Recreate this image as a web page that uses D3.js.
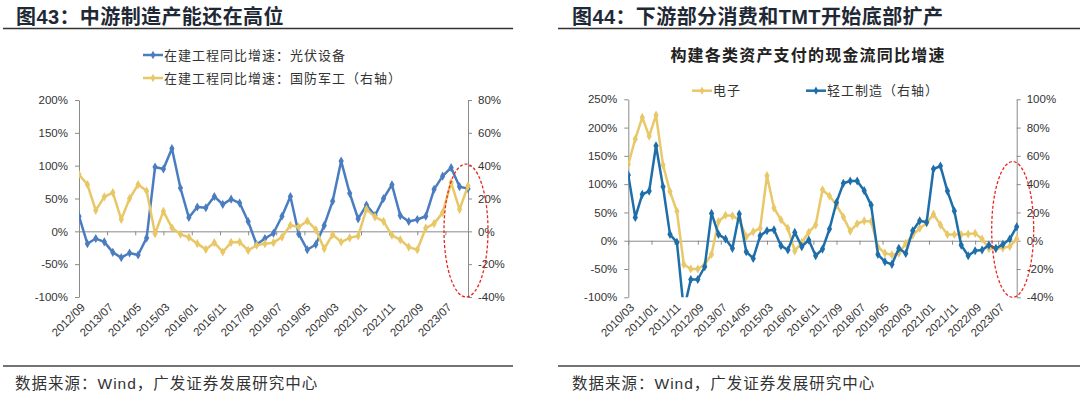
<!DOCTYPE html>
<html>
<head>
<meta charset="utf-8">
<script src="https://cdn.jsdelivr.net/npm/d3@7"></script>
<style>
  body { margin: 0; background: #fff; }
  svg { display: block; }
</style>
</head>
<body>
<div id="chart"></div>
<script>
/******************************************************
 * Data
 ******************************************************/
// Figure 43: quarterly points from 2012/09
const leftStart = "2012/09";
const leftEnd = "2024/03";
const leftTickLabels = ["2012/09", "2013/07", "2014/05", "2015/03", "2016/01", "2016/11", "2017/09",
    "2018/07", "2019/05", "2020/03", "2021/01", "2021/11", "2022/09", "2023/07"];
const leftAxisTicksA = [-100, -50, 0, 50, 100, 150, 200];
const leftAxisTicksB = [-40, -20, 0, 20, 40, 60, 80];
// 在建工程同比增速：光伏设备 (left axis, %)
const pvEquipment = [23, -19, -11, -16, -32, -40, -33, -36, -10, 98, 95, 126, 66, 21, 37, 36, 53, 41, 49, 43,
    15, -20, -11, -3, 23, 53, -4, -28, -20, 9, 46, 107, 58, 19, 40, 24, 50, 71, 24, 15, 18, 23, 64, 84, 97, 68, 65];
// 在建工程同比增速：国防军工 (right axis, %)
const defenseIndustry = [34.6, 28.5, 12.8, 21, 23.6, 7.3, 20, 28.5, 24.6, -1.4, 12.2, 2.2, -1.8, -3.7, -7.5, -11,
    -6.9, -12.6, -6.7, -6.5, -11.6, -8.5, -7.5, -6.9, -3.5, 3.7, 2.6, 6.3, 1, -10.6, -2, -6.5, -4, -2.8, 13.4, 8.8,
    6.1, -2.4, -5.1, -9.6, -11.2, 2, 4.7, 11.4, 29.7, 13.4, 27.7];

// Figure 44: quarterly points from 2010/03
const rightStart = "2010/03";
const rightEnd = "2024/03";
const rightTickLabels = ["2010/03", "2011/01", "2011/11", "2012/09", "2013/07", "2014/05", "2015/03", "2016/01",
    "2016/11", "2017/09", "2018/07", "2019/05", "2020/03", "2021/01", "2021/11", "2022/09", "2023/07"];
const rightAxisTicksA = [-100, -50, 0, 50, 100, 150, 200, 250];
const rightAxisTicksB = [-40, -20, 0, 20, 40, 60, 80, 100];
// 电子 (left axis, %)
const electronics = [135, 180, 218, 185, 222, 134, 87, 52, -42, -50, -50, -42, -24, 34, 45, 44, 37, 7, 16, 22,
    115, 58, 37, 22, -18, -3, 15, 28, 90, 79, 63, 42, 17, 30, 35, 34, -11, -22, -25, -22, -5, 10, 22, 31, 47, 28,
    11, 11, 11, 12, 13, 3, -14, -14, -13, -10, 3];
// 轻工制造 (right axis, %)
const lightManufacturing = [46.4, 16.5, 32.8, 35.1, 67.2, 38.2, 4.5, -1.2, -49, -27.4, -27.4, -18.4, 19.3, 4.5,
    1.2, -5.4, 18.9, -7.8, -12.5, 3.5, 7.1, 7.8, -3.5, -6.6, 5.9, -4.2, 0.5, -10.6, -5.9, 8.3, 27.1, 40.6, 42.2,
    42.2, 35.4, 25.2, -9.7, -14.9, -16.7, -5.4, -9, 7.1, 14.1, 13, 50.7, 52.8, 35.1, 21, -3.1, -10.6, -7.1, -6.6,
    -3.1, -5.4, -2.6, 1.2, 9.9];

/******************************************************
 * Style constants
 ******************************************************/
const WIDTH = 1080;
const HEIGHT = 396;
const FONT_CJK = "'Noto Sans CJK SC','Noto Sans',sans-serif";
const FONT_LAT = "'Liberation Sans',Arial,sans-serif";
const AXIS_GRAY = "#8a8a8a";
const TEXT_COLOR = "#333";
const TITLE_COLOR = "#1f2935";

const parseYM = d3.timeParse("%Y/%m");

const svg = d3.select("#chart").append("svg")
    .attr("width", WIDTH)
    .attr("height", HEIGHT);

/******************************************************
 * Helpers
 ******************************************************/
function quarterly(start, n) {
    const s = parseYM(start);
    return d3.range(n).map(i => d3.timeMonth.offset(s, 3 * i));
}

function styleAxis(sel) {
    sel.selectAll("path, line").attr("stroke", AXIS_GRAY).attr("stroke-width", 1);
    sel.selectAll("text")
        .attr("font-family", FONT_LAT)
        .attr("font-size", 11.5)
        .attr("fill", TEXT_COLOR);
}

function legendItem(g, x, y, color, label) {
    g.append("line")
        .attr("x1", x).attr("x2", x + 20)
        .attr("y1", y).attr("y2", y)
        .attr("stroke", color).attr("stroke-width", 2.5);
    g.append("path")
        .attr("d", d3.symbol(d3.symbolDiamond, 20)())
        .attr("transform", `translate(${x + 10},${y})`)
        .attr("fill", color);
    g.append("text")
        .attr("x", x + 21).attr("y", y + 4.5)
        .attr("font-family", FONT_CJK)
        .attr("font-size", 13)
        .attr("letter-spacing", 1)
        .attr("fill", TEXT_COLOR)
        .text(label);
}

function title(x, parts) {
    const t = svg.append("text")
        .attr("x", x).attr("y", 23.5)
        .attr("font-size", 20)
        .attr("font-weight", "bold")
        .attr("letter-spacing", 0.4)
        .attr("fill", TITLE_COLOR);
    parts.forEach(p => {
        t.append("tspan")
            .attr("font-family", p.lat ? FONT_LAT : FONT_CJK)
            .text(p.text);
    });
}

function frameLines(x1, x2) {
    svg.append("line").attr("x1", x1).attr("x2", x2).attr("y1", 28.5).attr("y2", 28.5)
        .attr("stroke", "#333").attr("stroke-width", 1.5);
    svg.append("line").attr("x1", x1).attr("x2", x2).attr("y1", 366).attr("y2", 366)
        .attr("stroke", "#444").attr("stroke-width", 1.5);
}

function footer(x) {
    const t = svg.append("text")
        .attr("x", x).attr("y", 389)
        .attr("font-size", 15.5)
        .attr("letter-spacing", 1)
        .attr("fill", TEXT_COLOR)
        .attr("font-family", FONT_CJK);
    t.append("tspan").text("数据来源：");
    t.append("tspan").attr("font-family", FONT_LAT).text("Wind");
    t.append("tspan").text("，广发证券发展研究中心");
}

/******************************************************
 * Draw one dual axis line panel
 ******************************************************/
function drawPanel(p) {
    const x = d3.scaleTime()
        .domain([parseYM(p.start), parseYM(p.end)])
        .range([p.x0, p.x1]);
    const yA = d3.scaleLinear().domain(d3.extent(p.ticksA)).range([p.yBot, p.yTop]);
    const yB = d3.scaleLinear().domain(d3.extent(p.ticksB)).range([p.yBot, p.yTop]);
    const g = svg.append("g");

    svg.append("clipPath").attr("id", "clip-" + p.id)
        .append("rect")
        .attr("x", p.x0).attr("y", p.yTop - 6)
        .attr("width", p.x1 - p.x0 + 6).attr("height", p.yBot - p.yTop + 6);

    // left axis
    g.append("g")
        .attr("transform", `translate(${p.x0},0)`)
        .call(d3.axisLeft(yA).tickValues(p.ticksA).tickSize(4).tickSizeOuter(0).tickPadding(7)
            .tickFormat(d => d + "%"))
        .call(styleAxis);

    // right axis
    g.append("g")
        .attr("transform", `translate(${p.x1},0)`)
        .call(d3.axisRight(yB).tickValues(p.ticksB).tickSize(4).tickSizeOuter(0).tickPadding(6)
            .tickFormat(d => d + "%"))
        .call(styleAxis);

    // zero line with date ticks
    const tickDates = p.tickLabels.map(parseYM);
    g.append("g")
        .attr("transform", `translate(0,${yA(0)})`)
        .call(d3.axisBottom(x).tickValues(tickDates).tickSize(4).tickSizeOuter(0).tickFormat(""))
        .call(styleAxis);

    // rotated date labels at the bottom
    g.selectAll(".xlabel")
        .data(p.tickLabels)
        .join("text")
        .attr("class", "xlabel")
        .attr("transform", d => `translate(${x(parseYM(d)) + 4},${p.yBot + 8}) rotate(-45)`)
        .attr("text-anchor", "end")
        .attr("dy", "0.35em")
        .attr("font-family", FONT_LAT)
        .attr("font-size", 11.5)
        .attr("fill", TEXT_COLOR)
        .text(d => d);

    // series
    const plot = g.append("g").attr("clip-path", `url(#clip-${p.id})`);
    p.series.forEach(s => {
        const y = s.axis === "A" ? yA : yB;
        const dates = quarterly(p.start, s.values.length);
        const pts = s.values.map((v, i) => ({ date: dates[i], v: v }));
        plot.append("path")
            .datum(pts)
            .attr("fill", "none")
            .attr("stroke", s.color)
            .attr("stroke-width", 2.5)
            .attr("stroke-linejoin", "round")
            .attr("d", d3.line().x(d => x(d.date)).y(d => y(d.v)));
        plot.selectAll(null)
            .data(pts)
            .join("path")
            .attr("d", d3.symbol(d3.symbolDiamond, 24)())
            .attr("transform", d => `translate(${x(d.date)},${y(d.v)})`)
            .attr("fill", s.color);
    });

    // red dashed highlight round the latest points
    const lastDate = parseYM(p.end);
    const top = yB(p.ellipse[1]);
    const bot = yB(p.ellipse[0]);
    g.append("ellipse")
        .attr("cx", x(lastDate) + p.ellipseDx)
        .attr("cy", (top + bot) / 2)
        .attr("rx", p.ellipseRx)
        .attr("ry", (bot - top) / 2)
        .attr("fill", "none")
        .attr("stroke", "#e8261f")
        .attr("stroke-width", 1.3)
        .attr("stroke-dasharray", "3,2");

    return g;
}

/******************************************************
 * Figure 43
 ******************************************************/
title(16, [{ text: "图" }, { text: "43", lat: true }, { text: "：中游制造产能还在高位" }]);
frameLines(3, 513);
footer(15);

const leftPanel = drawPanel({
    id: "left",
    start: leftStart, end: leftEnd,
    x0: 79, x1: 468, yTop: 100, yBot: 297,
    ticksA: leftAxisTicksA, ticksB: leftAxisTicksB,
    tickLabels: leftTickLabels,
    ellipse: [-40, 41], ellipseDx: -2, ellipseRx: 22,
    series: [
        { values: pvEquipment, axis: "A", color: "#4a7dc0" },
        { values: defenseIndustry, axis: "B", color: "#e8c766" }
    ]
});
legendItem(leftPanel, 143, 55, "#4a7dc0", "在建工程同比增速：光伏设备");
legendItem(leftPanel, 143, 78, "#e8c766", "在建工程同比增速：国防军工（右轴）");

/******************************************************
 * Figure 44
 ******************************************************/
title(572, [{ text: "图" }, { text: "44", lat: true }, { text: "：下游部分消费和" },
    { text: "TMT", lat: true }, { text: "开始底部扩产" }]);
frameLines(558, 1080);
footer(572);

svg.append("text")
    .attr("x", 808).attr("y", 61)
    .attr("text-anchor", "middle")
    .attr("font-family", FONT_CJK)
    .attr("font-size", 16)
    .attr("font-weight", "bold")
    .attr("letter-spacing", 1.2)
    .attr("fill", "#222")
    .text("构建各类资产支付的现金流同比增速");

const rightPanel = drawPanel({
    id: "right",
    start: rightStart, end: rightEnd,
    x0: 628.3, x1: 1016.7, yTop: 99.3, yBot: 297.3,
    ticksA: rightAxisTicksA, ticksB: rightAxisTicksB,
    tickLabels: rightTickLabels,
    ellipse: [-40, 56], ellipseDx: -4, ellipseRx: 21,
    series: [
        { values: electronics, axis: "A", color: "#e8c869" },
        { values: lightManufacturing, axis: "B", color: "#1e6eaa" }
    ]
});
legendItem(rightPanel, 692, 90.7, "#e8c869", "电子");
legendItem(rightPanel, 806, 90.7, "#1e6eaa", "轻工制造（右轴）");
</script>
</body>
</html>
